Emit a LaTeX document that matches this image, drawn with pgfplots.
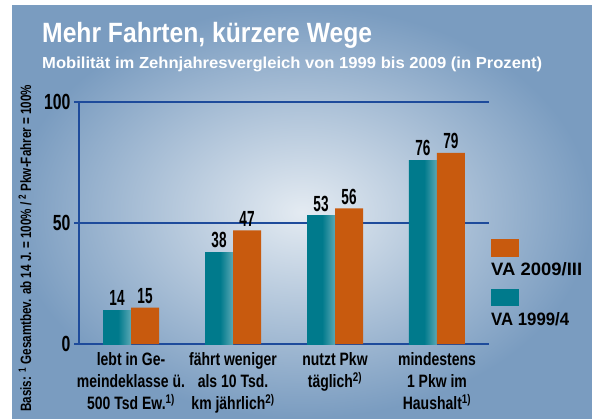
\documentclass[border=0pt]{standalone}
\usepackage{fontspec}
\setmainfont{Liberation Sans}
\newfontfamily\condA[FakeStretch=0.78]{Liberation Sans}
\newfontfamily\condB[FakeStretch=0.62]{Liberation Sans}
\newfontfamily\condC[FakeStretch=0.72]{Liberation Sans}
\usepackage{graphicx}
\usepackage{pgfplots}
\pgfplotsset{compat=1.18}
\definecolor{bgout}{HTML}{7A9CC0}
\definecolor{bgin}{HTML}{E4EBF2}
\definecolor{gridblue}{HTML}{1E4B9B}
\definecolor{tealA}{HTML}{007A8C}
\definecolor{tealB}{HTML}{5AA8B5}
\definecolor{orng}{HTML}{C85A0E}
\pgfdeclarehorizontalshading{tealbar}{100bp}{color(0bp)=(tealA); color(25bp)=(tealA); color(52bp)=(tealA); color(75bp)=(tealB); color(100bp)=(tealB)}
\begin{document}
\begin{tikzpicture}[x=1bp,y=1bp]
\fill[white] (0,0) rectangle (592,418);
\shade[inner color=bgin, outer color=bgout] (12,0) rectangle (592,412);
\begin{axis}[
  at={(79bp,74bp)}, anchor=south west,
  scale only axis, width=410bp, height=242bp,
  xmin=-0.51, xmax=3.51, ymin=0, ymax=100,
  axis lines=left,
  axis line style={gridblue, line width=2.5bp, -},
  ytick={0,50,100},
  ymajorgrids, grid style={gridblue, line width=2.5bp},
  xtick={0,1,2,3},
  xticklabels={{lebt in Ge-\\meindeklasse ü.\\500 Tsd Ew.\textsuperscript{1)}},
               {fährt weniger\\als 10 Tsd.\\km jährlich\textsuperscript{2)}},
               {nutzt Pkw\\täglich\textsuperscript{2)}},
               {mindestens\\1 Pkw im\\Haushalt\textsuperscript{1)}}},
  major x tick style={draw=none},
  major y tick style={gridblue, line width=2.5bp},
  major tick length=5bp, tick align=outside,
  /pgf/number format/assume math mode=true,
  yticklabel style={font=\condC\bfseries\fontsize{22}{22}\selectfont, text=black},
  xticklabel style={align=center, font=\condA\bfseries\fontsize{18}{22}\selectfont, text=black},
  every axis plot/.append style={ybar, bar width=28bp, draw=none},
  nodes near coords,
  nodes near coords style={font=\condB\bfseries\fontsize{22}{22}\selectfont, text=black, anchor=south, inner sep=0pt, yshift=4bp},
  teal1999/.style={shading=tealbar, bar shift=-14bp,
    every node near coord/.append style={xshift=-14bp}},
  clip=false,
]
% VA 1999/4 (each bar its own path so that the shading applies per bar)
\addplot[teal1999] coordinates {(0,14)};
\addplot[teal1999] coordinates {(1,38)};
\addplot[teal1999] coordinates {(2,53)};
\addplot[teal1999] coordinates {(3,76)};
% VA 2009/III
\addplot[fill=orng, bar shift=14bp,
    every node near coord/.append style={xshift=14bp}]
  coordinates {(0,15) (1,47) (2,56) (3,79)};
\end{axis}
% titles
\node[anchor=base west, inner sep=0pt, text=white] at (42,376)
  {\resizebox{330bp}{\height}{\fontsize{28}{28}\selectfont\bfseries Mehr Fahrten, kürzere Wege}};
\node[anchor=base west, inner sep=0pt, text=white] at (42,350)
  {\resizebox{500bp}{\height}{\fontsize{16}{16}\selectfont\bfseries Mobilität im Zehnjahresvergleich von 1999 bis 2009 (in Prozent)}};
% note
\node[rotate=90, anchor=base west, inner sep=0pt, text=black] at (31,6)
  {\resizebox{327bp}{\height}{\fontsize{15}{15}\selectfont\bfseries Basis: \textsuperscript{1} Gesamtbev. ab 14 J. = 100\% / \textsuperscript{2} Pkw-Fahrer = 100\%}};
% legend
\fill[orng] (491,161) rectangle (519,179);
\node[anchor=base west, inner sep=0pt] at (491,143)
  {\resizebox{91bp}{\height}{\fontsize{18}{18}\selectfont\bfseries VA 2009/III}};
\fill[tealA] (491,112) rectangle (519,129);
\node[anchor=base west, inner sep=0pt] at (491,93)
  {\resizebox{78bp}{\height}{\fontsize{18}{18}\selectfont\bfseries VA 1999/4}};
\pgfresetboundingbox
\useasboundingbox (0,0) rectangle (592,418);
\end{tikzpicture}
\end{document}
